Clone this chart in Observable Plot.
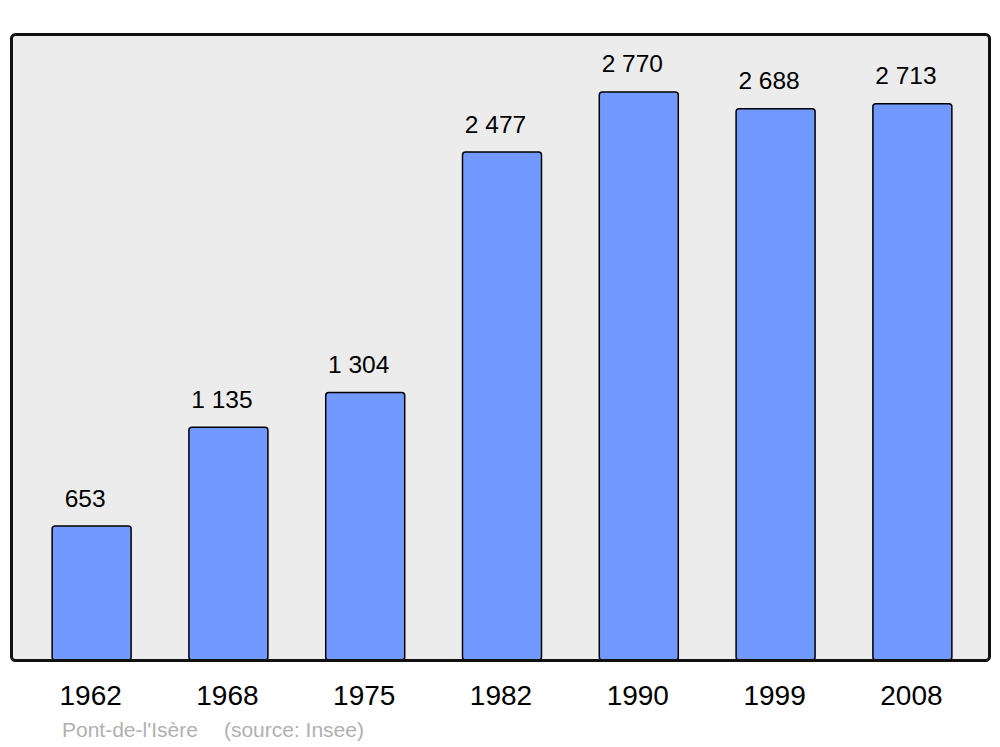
<!DOCTYPE html>
<html>
<head>
<meta charset="utf-8">
<script src="https://cdn.jsdelivr.net/npm/d3@7"></script>
<script src="https://cdn.jsdelivr.net/npm/@observablehq/plot@0.6"></script>
<style>
  html, body { margin: 0; padding: 0; background: #ffffff; }
  body { width: 1000px; height: 747px; overflow: hidden; font-family: "Liberation Sans", Arial, sans-serif; }
  #caption { position: relative; margin-left: 62px; font-size: 21px; color: #b0b0b0; line-height: 25px; white-space: pre; }
  #caption .src { margin-left: 26px; }
</style>
</head>
<body>
<div id="chart"></div>
<div id="caption"><span class="name"></span><span class="src"></span></div>
<script>
const years = ["1962", "1968", "1975", "1982", "1990", "1999", "2008"];
const population = [653, 1135, 1304, 2477, 2770, 2688, 2713];
const commune = "Pont-de-l'Isère";
const source = "(source: Insee)";

const data = years.map((y, i) => ({year: y, value: population[i]}));
const fmt = v => d3.format(",")(v).replace(/,/g, " ");

const chart = Plot.plot({
  width: 1000,
  height: 717,
  marginTop: 34,
  marginBottom: 57,
  marginLeft: 11,
  marginRight: 11,
  style: {fontFamily: "'Liberation Sans', Arial, sans-serif", background: "transparent"},
  x: {type: "band", domain: years, range: [13, 991], round: false, paddingInner: 0.4225, paddingOuter: 0.286, label: null},
  y: {domain: [0, 3052.8], axis: null},
  marks: [
    Plot.frame({fill: "#ececec", rx: 4}),
    Plot.barY(data, {x: "year", y: "value", fill: "#7299ff", stroke: "#000", strokeWidth: 1.5, rx: 3}),
    Plot.frame({stroke: "#111", strokeWidth: 3, rx: 4}),
    Plot.text(data, {x: "year", y: "value", text: d => fmt(d.value), dy: -20, dx: -7, lineAnchor: "bottom", fontSize: 24.5, fill: "#000"}),
    Plot.axisX({tickSize: 0, tickPadding: 25, fontSize: 28, dx: -1.5, fill: "#000", label: null})
  ]
});
document.getElementById("chart").appendChild(chart);
document.querySelector("#caption .name").textContent = commune;
document.querySelector("#caption .src").textContent = source;
</script>
</body>
</html>
